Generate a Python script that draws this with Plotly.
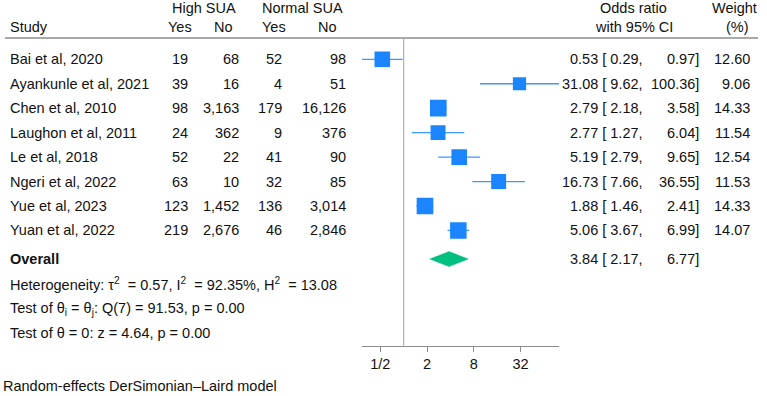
import plotly.graph_objects as go
import math

studies = ["Bai et al, 2020", "Ayankunle et al, 2021", "Chen et al, 2010", "Laughon et al, 2011",
           "Le et al, 2018", "Ngeri et al, 2022", "Yue et al, 2023", "Yuan et al, 2022"]
high_yes = [19, 39, 98, 24, 52, 63, 123, 219]
high_no = [68, 16, 3163, 362, 22, 10, 1452, 2676]
norm_yes = [52, 4, 179, 9, 41, 32, 136, 46]
norm_no = [98, 51, 16126, 376, 90, 85, 3014, 2846]
odds = [0.53, 31.08, 2.79, 2.77, 5.19, 16.73, 1.88, 5.06]
ci_low = [0.29, 9.62, 2.18, 1.27, 2.79, 7.66, 1.46, 3.67]
ci_high = [0.97, 100.36, 3.58, 6.04, 9.65, 36.55, 2.41, 6.99]
weights = [12.60, 9.06, 14.33, 11.54, 12.54, 11.53, 14.33, 14.07]
overall = [3.84, 2.17, 6.77]
tick_vals = [0.5, 2, 8, 32]
tick_text = ["1/2", "2", "8", "32"]
stats_lines = [
    "Heterogeneity: τ<sup>2</sup>&nbsp; = 0.57, I<sup>2</sup>&nbsp; = 92.35%, H<sup>2</sup>&nbsp; = 13.08",
    "Test of θ<sub>i</sub> = θ<sub>j</sub>: Q(7) = 91.53, p = 0.00",
    "Test of θ = 0: z = 4.64, p = 0.00",
]
footnote = "Random-effects DerSimonian–Laird model"

W, H = 767, 396
FONT = "Liberation Sans, Arial, sans-serif"
FS = 14.5
TXT = "#111111"
BLUE = "#1a85ff"
GREEN = "#00bf7f"
GRAY = "#8c8c8c"

ROW0 = 59.3     # pixel centre of first row
STEP = 24.45    # pixel spacing between rows
TOP_PX, BOT_PX = 39, 345.7
X_L_PX, X_R_PX = 362, 559

def py(i):
    return 1 - (ROW0 + STEP * i) / H

def pxp(x):
    return x / W

n = len(studies)
overall_row = n + 0.17

fig = go.Figure()

# CI lines
cx, cy = [], []
for i in range(n):
    cx += [ci_low[i], ci_high[i], None]
    cy += [i, i, None]
fig.add_trace(go.Scatter(x=cx, y=cy, mode="lines", line=dict(color="#3d97ff", width=1.3),
                         hoverinfo="skip", showlegend=False))
# squares
fig.add_trace(go.Scatter(x=odds, y=list(range(n)), mode="markers",
                         marker=dict(symbol="square", color=BLUE, opacity=1,
                                     size=[4.4 * math.sqrt(w) for w in weights],
                                     line=dict(width=0)),
                         showlegend=False))
# diamond
hh = 7.5 / STEP
fig.add_trace(go.Scatter(x=[overall[1], overall[0], overall[2], overall[0], overall[1]],
                         y=[overall_row, overall_row - hh, overall_row, overall_row + hh, overall_row],
                         mode="lines", fill="toself", fillcolor=GREEN, line=dict(color=GREEN, width=0.5),
                         showlegend=False, hoverinfo="skip"))

ann = []
def add(text, x, y, anchor="left", bold=False):
    ann.append(dict(text=f"<b>{text}</b>" if bold else text, x=pxp(x), y=y,
                    xref="paper", yref="paper", xanchor=anchor, yanchor="middle",
                    showarrow=False, font=dict(family=FONT, size=FS, color=TXT)))

# headers
hy1, hy2 = 1 - 8.5 / H, 1 - 27 / H
add("High SUA", 204, hy1, "center")
add("Normal SUA", 302.5, hy1, "center")
add("Study", 8, hy2)
add("Yes", 180, hy2, "center")
add("No", 224, hy2, "center")
add("Yes", 274, hy2, "center")
add("No", 327, hy2, "center")
add("Odds ratio", 633.5, hy1, "center")
add("with 95% CI", 633.5, hy2, "center")
add("Weight", 734, hy1, "center")
add("(%)", 737, hy2, "center")

for i in range(n):
    y = py(i)
    add(studies[i], 8, y)
    add(f"{high_yes[i]:,}", 190, y, "right")
    add(f"{high_no[i]:,}", 241, y, "right")
    add(f"{norm_yes[i]:,}", 283.5, y, "right")
    add(f"{norm_no[i]:,}", 348, y, "right")
    add(f"{odds[i]:.2f} [ {ci_low[i]:.2f},", 645, y, "right")
    add(f"{ci_high[i]:.2f}]", 701, y, "right")
    add(f"{weights[i]:.2f}", 752, y, "right")

yo = py(overall_row)
add("Overall", 8, yo, bold=True)
add(f"{overall[0]:.2f} [ {overall[1]:.2f},", 645, yo, "right")
add(f"{overall[2]:.2f}]", 701, yo, "right")

for line, ypx in zip(stats_lines, [283.5, 309, 333]):
    add(line, 8, 1 - ypx / H)
add(footnote, 1, 1 - 385.5 / H)

shapes = [
    dict(type="line", xref="paper", yref="paper", x0=pxp(5), x1=pxp(758),
         y0=1 - 38 / H, y1=1 - 38 / H, line=dict(color=GRAY, width=1.6)),
    dict(type="line", xref="x", yref="y domain", x0=1, x1=1, y0=0, y1=1,
         line=dict(color="#a0a0a0", width=1)),
]

# y range mapping row index -> pixels
y_top = (TOP_PX - ROW0) / STEP
y_bot = (BOT_PX - ROW0) / STEP

fig.update_layout(
    width=W, height=H, margin=dict(l=0, r=0, t=0, b=0),
    paper_bgcolor="white", plot_bgcolor="white",
    annotations=ann, shapes=shapes, showlegend=False,
    xaxis=dict(type="log", domain=[X_L_PX / W, X_R_PX / W],
               range=[math.log10(min(ci_low)), math.log10(max(ci_high))],
               tickvals=tick_vals, ticktext=tick_text, showgrid=False, zeroline=False,
               showline=True, linecolor=GRAY, linewidth=1.3, ticks="outside", ticklen=5,
               tickcolor=GRAY, tickwidth=1, tickfont=dict(family=FONT, size=FS, color=TXT),
               fixedrange=True),
    yaxis=dict(domain=[1 - BOT_PX / H, 1 - TOP_PX / H], range=[y_bot, y_top],
               visible=False, showgrid=False, zeroline=False, fixedrange=True),
)

fig.write_html("out.html")
